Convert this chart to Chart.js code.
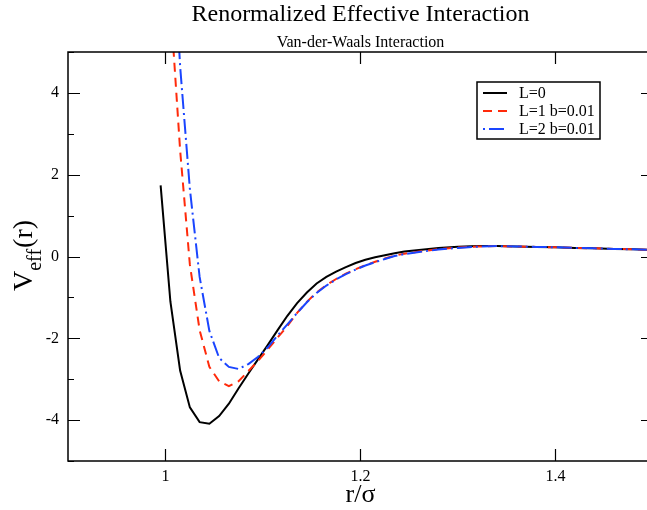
<!DOCTYPE html>
<html><head><meta charset="utf-8">
<script src="https://cdn.jsdelivr.net/npm/chart.js@4"></script>
<style>html,body{margin:0;padding:0;overflow:hidden;background:#fff}#wrap{width:660px;height:510px}</style>
</head><body><div id="wrap"><canvas id="c" width="660" height="510"></canvas></div>
<script>
// ---- data ----
const titleText = "Renormalized Effective Interaction";
const subtitleText = "Van-der-Waals Interaction";
const seriesLabels = ["L=0", "L=1 b=0.01", "L=2 b=0.01"];

const rL0 = [0.995,1.005,1.015,1.025,1.035,1.045,1.055,1.065,1.075,1.085,1.095,1.105,1.115,1.125,1.135,1.145,1.155,1.165,1.175,1.185,1.195,1.205,1.215,1.225,1.235,1.245,1.26,1.28,1.30,1.32,1.34,1.36,1.38,1.40,1.42,1.44,1.46,1.48,1.50];
const vL0 = [1.74,-1.10,-2.79,-3.69,-4.05,-4.09,-3.90,-3.60,-3.22,-2.86,-2.51,-2.16,-1.80,-1.45,-1.14,-0.88,-0.66,-0.50,-0.37,-0.26,-0.16,-0.08,-0.02,0.03,0.08,0.12,0.16,0.21,0.24,0.255,0.255,0.245,0.235,0.225,0.21,0.20,0.185,0.175,0.16];

const rL1 = [1.005,1.015,1.025,1.035,1.045,1.055,1.065,1.075,1.085,1.095,1.105,1.115,1.125,1.135,1.145,1.155,1.165,1.175,1.185,1.195,1.205,1.215,1.225,1.235,1.245,1.26,1.28,1.30,1.32,1.34,1.36,1.38,1.40,1.42,1.44,1.46,1.48,1.50];
const vL1 = [6.2,2.6,-0.20,-1.80,-2.70,-3.05,-3.17,-3.05,-2.80,-2.55,-2.27,-1.98,-1.70,-1.38,-1.11,-0.88,-0.70,-0.55,-0.42,-0.31,-0.21,-0.13,-0.05,0.02,0.07,0.12,0.18,0.22,0.245,0.255,0.245,0.235,0.225,0.21,0.20,0.185,0.175,0.16];

const rL2 = [1.005,1.015,1.025,1.035,1.045,1.055,1.065,1.075,1.085,1.095,1.105,1.115,1.125,1.135,1.145,1.155,1.165,1.175,1.185,1.195,1.205,1.215,1.225,1.235,1.245,1.26,1.28,1.30,1.32,1.34,1.36,1.38,1.40,1.42,1.44,1.46,1.48,1.50];
const vL2 = [9.0,4.65,1.65,-0.50,-1.82,-2.48,-2.70,-2.75,-2.63,-2.45,-2.22,-1.93,-1.66,-1.38,-1.12,-0.89,-0.71,-0.56,-0.43,-0.32,-0.22,-0.14,-0.06,0.01,0.06,0.11,0.17,0.21,0.24,0.255,0.245,0.235,0.225,0.21,0.20,0.185,0.175,0.16];

const xTicks = [1, 1.2, 1.4];
const yTicks = [-4, -2, 0, 2, 4];
const yMinorTicks = [-5, -3, -1, 1, 3, 5];

const SERIF = '"Liberation Serif", "DejaVu Serif", serif';
const pts = (xs, ys) => xs.map((x, i) => ({x: x, y: ys[i]}));

const decor = {
  id: 'decor',
  afterDraw(chart) {
    const ctx = chart.ctx, a = chart.chartArea;
    const xs = chart.scales.x, ys = chart.scales.y;
    ctx.save();
    // frame
    ctx.strokeStyle = '#000'; ctx.lineWidth = 1.5; ctx.setLineDash([]);
    ctx.strokeRect(a.left, a.top, a.right - a.left, a.bottom - a.top);
    // inward ticks
    ctx.lineWidth = 1.2;
    ctx.beginPath();
    xTicks.forEach(v => {
      const p = Math.round(xs.getPixelForValue(v)) + 0.5;
      ctx.moveTo(p, a.bottom); ctx.lineTo(p, a.bottom - 12);
      ctx.moveTo(p, a.top); ctx.lineTo(p, a.top + 12);
    });
    yTicks.forEach(v => {
      const p = Math.round(ys.getPixelForValue(v)) + 0.5;
      ctx.moveTo(a.left, p); ctx.lineTo(a.left + 12, p);
      ctx.moveTo(a.right, p); ctx.lineTo(a.right - 12, p);
    });
    yMinorTicks.forEach(v => {
      const p = Math.round(ys.getPixelForValue(v)) + 0.5;
      ctx.moveTo(a.left, p); ctx.lineTo(a.left + 6, p);
      ctx.moveTo(a.right, p); ctx.lineTo(a.right - 6, p);
    });
    ctx.stroke();

    // titles
    const cx = (a.left + a.right) / 2;
    ctx.fillStyle = '#000'; ctx.textAlign = 'center'; ctx.textBaseline = 'alphabetic';
    ctx.font = '24px ' + SERIF; ctx.fillText(titleText, cx, 21);
    ctx.font = '16px ' + SERIF; ctx.fillText(subtitleText, cx, 47);
    // x axis title
    ctx.font = '26px ' + SERIF; ctx.fillText('r/\u03C3', cx, 502);
    // y axis title V_eff(r)
    ctx.save();
    ctx.translate(32, 291); ctx.rotate(-Math.PI / 2);
    ctx.textAlign = 'left';
    ctx.font = '28px ' + SERIF; ctx.fillText('V', 0, 0);
    let w = ctx.measureText('V').width;
    ctx.font = '20px ' + SERIF; ctx.fillText('eff', w, 9);
    w += ctx.measureText('eff').width + 1;
    ctx.font = '28px ' + SERIF; ctx.fillText('(r)', w, 0);
    ctx.restore();

    // legend
    const lx = 477, ly = 82, lw = 123, lh = 57;
    ctx.fillStyle = '#fff'; ctx.fillRect(lx, ly, lw, lh);
    ctx.strokeStyle = '#000'; ctx.lineWidth = 1.5; ctx.strokeRect(lx, ly, lw, lh);
    ctx.font = '16px ' + SERIF; ctx.textAlign = 'left'; ctx.textBaseline = 'middle';
    chart.data.datasets.forEach((ds, i) => {
      const y = 93 + i * 18;
      ctx.strokeStyle = ds.borderColor; ctx.lineWidth = ds.borderWidth;
      ctx.setLineDash(ds.borderDash || []);
      ctx.beginPath(); ctx.moveTo(483, y); ctx.lineTo(507, y); ctx.stroke();
      ctx.setLineDash([]);
      ctx.fillStyle = '#000'; ctx.fillText(ds.label, 519, y + 1);
    });
    ctx.restore();
  }
};

new Chart(document.getElementById('c'), {
  type: 'line',
  data: {
    datasets: [
      {label: seriesLabels[0], data: pts(rL0, vL0), borderColor: '#000000', borderWidth: 2, pointRadius: 0, tension: 0, order: 2},
      {label: seriesLabels[1], data: pts(rL1, vL1), borderColor: '#ff2a0a', borderWidth: 2, borderDash: [9, 6], pointRadius: 0, tension: 0, order: 1},
      {label: seriesLabels[2], data: pts(rL2, vL2), borderColor: '#1a45ff', borderWidth: 2, borderDash: [2, 4, 15, 4], pointRadius: 0, tension: 0, order: 0}
    ]
  },
  options: {
    responsive: false, animation: false, devicePixelRatio: 1,
    layout: {padding: {left: 0, right: 7, top: 52, bottom: 0}},
    plugins: {legend: {display: false}, title: {display: false}, tooltip: {enabled: false}},
    scales: {
      x: {
        type: 'linear', min: 0.9, max: 1.5,
        afterBuildTicks: s => { s.ticks = xTicks.map(v => ({value: v})); },
        afterFit: s => { s.height = 49; },
        grid: {display: false, drawTicks: false}, border: {display: false},
        ticks: {color: '#000', font: {family: SERIF, size: 16}, padding: 6, maxRotation: 0, callback: v => String(v)}
      },
      y: {
        type: 'linear', min: -5, max: 5,
        afterBuildTicks: s => { s.ticks = yTicks.map(v => ({value: v})); },
        afterFit: s => { s.width = 68; },
        grid: {display: false, drawTicks: false}, border: {display: false},
        ticks: {color: '#000', font: {family: SERIF, size: 16}, padding: 9, callback: v => String(v)}
      }
    }
  },
  plugins: [decor]
});
</script>
</body></html>
